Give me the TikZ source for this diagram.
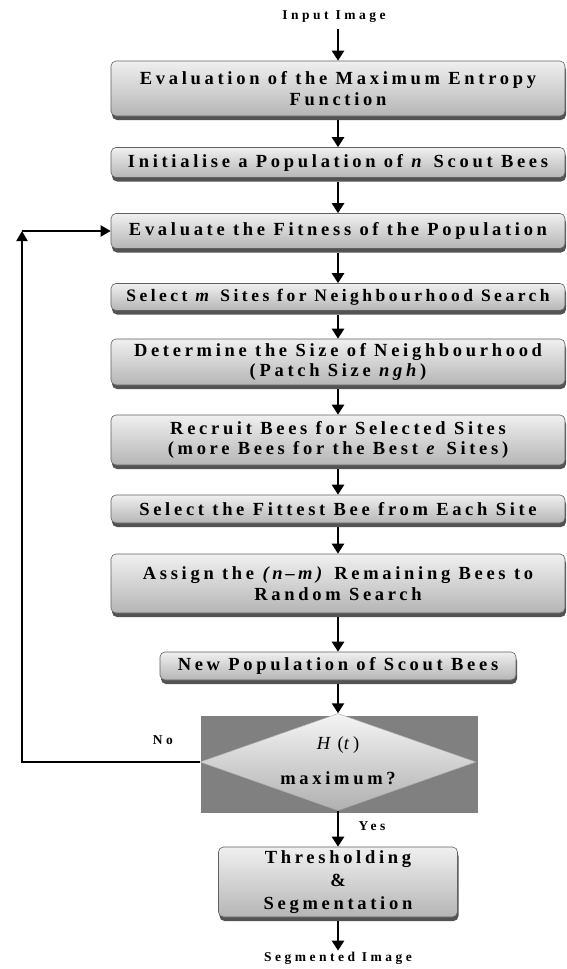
\documentclass[tikz,border=0pt]{standalone}
\usepackage{fontspec}
\setmainfont{Liberation Serif}
\newfontfamily\spacedfont[LetterSpace=20]{Liberation Serif}
\newfontfamily\lblfont[LetterSpace=26]{Liberation Serif}
\usetikzlibrary{arrows.meta,shapes.geometric,shadows}
\tikzset{
  boxstyle/.style={draw=gray!75!black, line width=0.6pt, rounded corners=5pt,
    top color=gray!12, bottom color=gray!58, minimum width=454pt, inner sep=0pt,
    align=center, font=\spacedfont\bfseries\fontsize{18.5}{20.5}\selectfont,
    drop shadow={shadow xshift=1pt, shadow yshift=-4pt, fill=gray!65!black, opacity=1}},
  lbl/.style={font=\lblfont\bfseries\fontsize{13.5}{15}\selectfont, inner sep=1pt},
  dtext/.style={font=\spacedfont\bfseries\fontsize{18.5}{20.5}\selectfont, inner sep=1pt},
  arr/.style={line width=2.4pt, -{Triangle[length=10pt,width=12pt]}},
  looparr/.style={line width=2pt, -{Triangle[length=10pt,width=11pt]}}
}
\begin{document}
\begin{tikzpicture}[x=1pt,y=-1pt]
\useasboundingbox[fill=white] (0,0) rectangle (567,969);
\node[lbl] (inp) at (334,17) {Input Image};
\node[boxstyle, minimum height=55pt] (b1) at (338,88.5) {Evaluation of the Maximum Entropy\\Function};
\node[boxstyle, minimum height=30pt] (b2) at (338,162.5) {Initialise a Population of \textit{n} Scout Bees};
\node[boxstyle, minimum height=35pt] (b3) at (338,231) {Evaluate the Fitness of the Population};
\node[boxstyle, minimum height=27pt, font=\spacedfont\bfseries\fontsize{17.5}{20}\selectfont] (b4) at (338,297) {Select \textit{m} Sites for Neighbourhood Search};
\node[boxstyle, minimum height=46pt] (b5) at (338,362) {Determine the Size of Neighbourhood\\(Patch Size \textit{ngh})};
\node[boxstyle, minimum height=50pt] (b6) at (338,440) {Recruit Bees for Selected Sites\\(more Bees for the Best \textit{e} Sites)};
\node[boxstyle, minimum height=28pt] (b7) at (338,509) {Select the Fittest Bee from Each Site};
\node[boxstyle, minimum height=59pt] (b8) at (338,583.5) {Assign the \textit{(n\,\textendash\,m)} Remaining Bees to\\Random Search};
\node[boxstyle, minimum height=28pt, minimum width=356pt] (b9) at (338,666) {New Population of Scout Bees};
\node[fill={rgb,255:red,128;green,128;blue,128}, minimum width=277pt, minimum height=97pt, inner sep=0pt] (grect) at (339,764.5) {};
\node[diamond, draw=gray!65, line width=0.5pt, top color=gray!8, bottom color=gray!62,
  minimum width=276pt, minimum height=97pt, inner sep=0pt] (dia) at (338,762) {};
\node[dtext, font=\spacedfont\fontsize{18.5}{20.5}\selectfont] (ht) at (338,745) {\textit{H}\,(\textit{t})};
\node[dtext] (mx) at (338,778) {maximum?};
\node[boxstyle, minimum height=70pt, minimum width=239pt, font=\spacedfont\bfseries\fontsize{18.5}{23}\selectfont] (b10) at (338,882) {Thresholding\\\&\\Segmentation};
\node[lbl] (out) at (338,958) {Segmented Image};
\node[lbl] (no) at (163,740) {No};
\node[lbl] (yes) at (372,826) {Yes};
\coordinate (c1) at (22,762);
\coordinate (c2) at (22,231);
\draw[arr] ([yshift=-5pt]inp.south -| b1.north) -- (b1.north);
\draw[arr] ([yshift=-4pt]b1.south) -- (b2.north);
\draw[arr] ([yshift=-4pt]b2.south) -- (b3.north);
\draw[arr] ([yshift=-4pt]b3.south) -- (b4.north);
\draw[arr] ([yshift=-4pt]b4.south) -- (b5.north);
\draw[arr] ([yshift=-4pt]b5.south) -- (b6.north);
\draw[arr] ([yshift=-4pt]b6.south) -- (b7.north);
\draw[arr] ([yshift=-4pt]b7.south) -- (b8.north);
\draw[arr] ([yshift=-4pt]b8.south) -- (b9.north);
\draw[arr] ([yshift=-4pt]b9.south) -- (dia.north);
\draw[arr] (dia.south) -- (b10.north);
\draw[arr] ([yshift=-4pt]b10.south) -- (out.north);
\draw[looparr] (dia.west) -- (c1) -- (c2);
\draw[looparr] (c2) -- (b3.west);
\end{tikzpicture}
\end{document}
